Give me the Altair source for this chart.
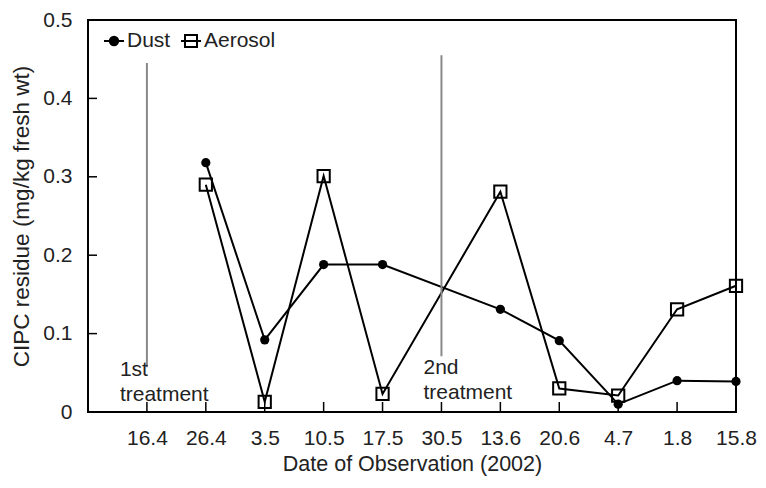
import altair as alt
import pandas as pd

# ---- data ----
dates = ["16.4", "26.4", "3.5", "10.5", "17.5", "30.5", "13.6", "20.6", "4.7", "1.8", "15.8"]
dust_dates = ["26.4", "3.5", "10.5", "17.5", "13.6", "20.6", "4.7", "1.8", "15.8"]
dust_vals = [0.318, 0.092, 0.188, 0.188, 0.131, 0.091, 0.010, 0.040, 0.039]
aero_dates = ["26.4", "3.5", "10.5", "17.5", "13.6", "20.6", "4.7", "1.8", "15.8"]
aero_vals = [0.290, 0.013, 0.301, 0.023, 0.281, 0.030, 0.021, 0.131, 0.161]
treat_dates = ["16.4", "30.5"]
treat_lo = [0.057, 0.071]
treat_hi = [0.445, 0.455]
treat_labels = [["1st", "treatment"], ["2nd", "treatment"]]
treat_label_y = [0.0465, 0.049]
y_tick_vals = [0.0, 0.1, 0.2, 0.3, 0.4, 0.5]
inner_y_ticks = [0.1, 0.2, 0.3, 0.4]
series_names = ["Dust", "Aerosol"]

FONT = "Liberation Sans"
FS = 21
W, H = 648, 392

rows = []
for i, (d, v) in enumerate(zip(dust_dates, dust_vals)):
    rows.append({"series": "Dust", "date": d, "value": v, "ord": i})
for i, (d, v) in enumerate(zip(aero_dates, aero_vals)):
    rows.append({"series": "Aerosol", "date": d, "value": v, "ord": i})
df = pd.DataFrame(rows)
dust_df = df[df.series == "Dust"]
aero_df = df[df.series == "Aerosol"]

treat_df = pd.DataFrame({"date": treat_dates, "lo": treat_lo, "hi": treat_hi,
                         "label": treat_labels, "ly": treat_label_y})
xt_df = pd.DataFrame({"date": dates})
yt_df = pd.DataFrame({"yt": inner_y_ticks})
leg_df = pd.DataFrame({"series": series_names})

x_scale = alt.Scale(type="point", domain=dates, padding=0.5, align=1)
y_scale = alt.Scale(domain=[0, 0.5], nice=False, zero=True)

x_axis = alt.Axis(title="Date of Observation (2002)", labelAngle=0,
                  ticks=False, tickSize=0, domain=False, grid=False,
                  labelPadding=15, titlePadding=5, titleFontSize=21.5)
y_axis = alt.Axis(title="CIPC residue (mg/kg fresh wt)", values=y_tick_vals,
                  labelExpr="datum.value == 0 ? '0' : format(datum.value, '.1f')",
                  ticks=False, tickSize=0, domain=False, grid=False,
                  labelPadding=16, titlePadding=9, titleFontSize=22.5)


def X():
    return alt.X("date:N", scale=x_scale, sort=dates, axis=x_axis)


def Y(field):
    return alt.Y(field, scale=y_scale, axis=y_axis)


lines = alt.Chart(df).mark_line(color="black", strokeWidth=2).encode(
    x=X(), y=Y("value:Q"), detail="series:N", order="ord:Q")

dust_pts = alt.Chart(dust_df).mark_point(shape="circle", filled=True, color="black",
                                          size=85, opacity=1).encode(
    x=X(), y=Y("value:Q"))
aero_pts = alt.Chart(aero_df).mark_point(shape="square", filled=False, color="black",
                                          strokeWidth=2, size=150, opacity=1).encode(
    x=X(), y=Y("value:Q"))

treat_lines = alt.Chart(treat_df).mark_rule(color="#888888", strokeWidth=2).encode(
    x=X(), y=Y("lo:Q"), y2="hi:Q")

t1 = alt.Chart(treat_df[treat_df.date == "16.4"]).mark_text(
    align="left", baseline="alphabetic", dx=-27, lineHeight=25, font=FONT,
    fontSize=FS, color="#222222").encode(
    x=X(), y=Y("ly:Q"), text="label")
t2 = alt.Chart(treat_df[treat_df.date == "30.5"]).mark_text(
    align="left", baseline="alphabetic", dx=-18, lineHeight=25, font=FONT,
    fontSize=FS, color="#222222").encode(
    x=X(), y=Y("ly:Q"), text="label")

x_ticks = alt.Chart(xt_df).mark_rule(color="black", strokeWidth=1.5).encode(
    x=X(), y=alt.value(H), y2=alt.value(H - 10))
y_ticks = alt.Chart(yt_df).mark_rule(color="black", strokeWidth=1.5).encode(
    y=Y("yt:Q"), x=alt.value(0), x2=alt.value(9))

dust_path = "M-1,0H1M0.42,0A0.42,0.42,0,1,1,-0.42,0A0.42,0.42,0,1,1,0.42,0Z"
aero_path = "M-1,0H1M-0.6,-0.6H0.6V0.6H-0.6Z"
leg_layer = alt.Chart(leg_df).mark_point(filled=True, strokeWidth=2,
                                         clip=True, size=400, opacity=1).encode(
    x=alt.value(-1000), y=alt.value(-1000),
    shape=alt.Shape("series:N", scale=alt.Scale(domain=series_names, range=[dust_path, aero_path]),
                    legend=alt.Legend(title=None)),
    fill=alt.Fill("series:N", scale=alt.Scale(domain=series_names, range=["black", "transparent"]),
                  legend=alt.Legend(title=None)),
    stroke=alt.Stroke("series:N", scale=alt.Scale(domain=series_names, range=["black", "black"]),
                      legend=alt.Legend(title=None)))

chart = alt.layer(
    lines, treat_lines, x_ticks, y_ticks, dust_pts, aero_pts, t1, t2, leg_layer
).properties(
    width=W, height=H,
    autosize=alt.AutoSizeParams(type="none"),
    padding={"left": 80, "top": 12, "right": 22, "bottom": 68},
).configure_view(
    stroke="black", strokeWidth=2
).configure_axis(
    labelFont=FONT, titleFont=FONT, labelFontSize=FS, titleFontSize=FS,
    labelColor="#222222", titleColor="#222222", titleFontWeight="normal"
).configure_legend(
    orient="none", legendX=15, legendY=10, direction="horizontal",
    labelFont=FONT, labelFontSize=FS, labelColor="#222222", labelOffset=2,
    symbolSize=400, symbolStrokeWidth=2,
    columnPadding=6, padding=0, symbolOpacity=1
)

chart.save("out.html", embed_options={"renderer": "svg", "actions": False})
